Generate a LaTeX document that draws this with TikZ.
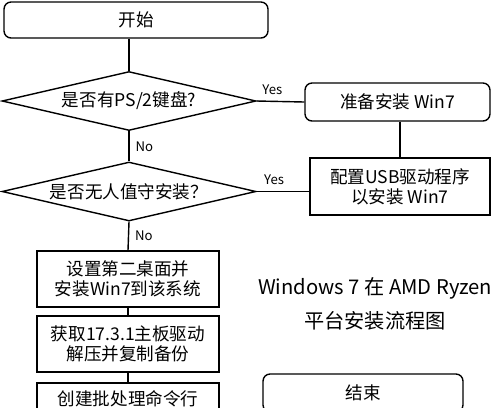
\documentclass[tikz,border=0pt]{standalone}
\usepackage{fontspec}
\setmainfont{Noto Sans CJK SC}
\usetikzlibrary{shapes.geometric}

\begin{document}
\begin{tikzpicture}[x=0.02cm,y=-0.02cm,line width=0.8pt,
	box/.style={draw,align=center,inner sep=0pt,font=\fontsize{10}{11.5}\selectfont},
	term/.style={box,rounded corners=4pt},
	decide/.style={draw,diamond,aspect=4.3,inner sep=0pt,minimum width=5.08cm,minimum height=1.18cm,font=\fontsize{10}{11.5}\selectfont}]
	\clip (0,0) rectangle (500,407);
	% nodes
	\node[term,minimum width=5.28cm,minimum height=0.72cm] (S) at (136,20) {开始};
	\node[decide] (D) at (129,101) {是否有PS/2键盘?};
	\node[decide] (D') at (129,191.5) {是否无人值守安装？};
	\node[term,minimum width=3.7cm,minimum height=0.76cm] (W) at (397.5,102) {准备安装 Win7};
	\node[box,minimum width=3.6cm,minimum height=1.14cm] (U) at (400,186.5) {配置USB驱动程序\\以安装 Win7};
	\node[box,minimum width=3.64cm,minimum height=1.12cm] (X) at (128,279) {设置第二桌面并\\安装Win7到该系统};
	\node[box,minimum width=3.64cm,minimum height=1.12cm] (X') at (128,344) {获取17.3.1主板驱动\\解压并复制备份};
	\node[box,minimum width=3.64cm,minimum height=1.12cm] (X'') at (128,411) {创建批处理命令行\\ \strut};
	\node[term,minimum width=4cm,minimum height=0.76cm] (E) at (363,393) {结束};
	\node[align=center,font=\fontsize{11.5}{19}\selectfont] (T) at (375,304) {Windows 7 在 AMD Ryzen\\平台安装流程图};
	%
	\path[font=\fontsize{7.5}{8}\selectfont]
	% vertical lines
	(D.north |- S.south) edge (D.north)
	(D.south) edge node[right]{No} (D'.north)
	(D'.south) edge node[right]{No} (X.north)
	(X) edge (X')
	(X') edge (X'')
	(U.north |- W.south) edge (U.north)
	% horizontal lines
	(D.east) edge node[above,pos=0.33]{Yes} (W.west)
	(D'.east) edge node[above,pos=0.33]{Yes} (D'.east -| U.west);
\end{tikzpicture}
\end{document}
